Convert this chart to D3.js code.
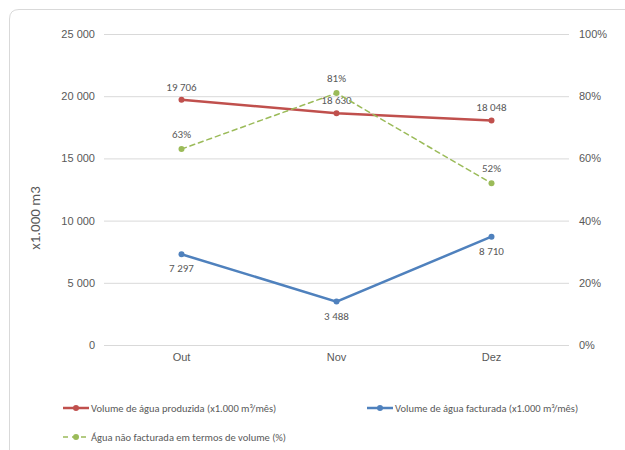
<!DOCTYPE html>
<html>
<head>
<meta charset="utf-8">
<script src="https://cdn.jsdelivr.net/npm/d3@7"></script>
<style>
  body { margin: 0; background: #fff; }
  svg { display: block; font-family: Calibri, Carlito, Lato, "Open Sans", sans-serif; }
</style>
</head>
<body>
<svg id="chart" width="625" height="450"></svg>
<script>
const months = ["Out", "Nov", "Dez"];
const produced = [19706, 18630, 18048];
const billed = [7297, 3488, 8710];
const unbilledPct = [63, 81, 52];
const leftTicks = [0, 5000, 10000, 15000, 20000, 25000];
const rightTicks = [0, 20, 40, 60, 80, 100];

const svg = d3.select("#chart");
const textColor = "#595959";
const fmt = v => d3.format(",")(v).replace(/,/g, " ");

// chart frame
svg.append("path")
  .attr("d", "M9.5,460 L9.5,19 Q9.5,9.5 19,9.5 L640,9.5")
  .attr("fill", "none").attr("stroke", "#d9d9d9").attr("stroke-width", 1);

const plotLeft = 104, plotRight = 569, plotTop = 34, plotBottom = 345;

const x = d3.scaleBand().domain(months).range([plotLeft, plotRight]);
const yL = d3.scaleLinear().domain([0, 25000]).range([plotBottom, plotTop]);
const yR = d3.scaleLinear().domain([0, 100]).range([plotBottom, plotTop]);
const cx = m => x(m) + x.bandwidth() / 2;

// gridlines
svg.append("g").selectAll("line").data(leftTicks).join("line")
  .attr("x1", plotLeft).attr("x2", plotRight)
  .attr("y1", d => yL(d) + 0.5).attr("y2", d => yL(d) + 0.5)
  .attr("stroke", "#d9d9d9").attr("stroke-width", 1);

// left axis labels
const gL = svg.append("g").attr("transform", `translate(${plotLeft - 9},0)`)
  .call(d3.axisLeft(yL).tickValues(leftTicks).tickFormat(fmt).tickSize(0).tickPadding(0));
gL.select(".domain").remove();
gL.selectAll("text").attr("fill", textColor).style("font-size", "11px");

// right axis labels
const gR = svg.append("g").attr("transform", `translate(${plotRight + 10},0)`)
  .call(d3.axisRight(yR).tickValues(rightTicks).tickFormat(d => d + "%").tickSize(0).tickPadding(0));
gR.select(".domain").remove();
gR.selectAll("text").attr("fill", textColor).style("font-size", "11px");

// category axis labels
const gX = svg.append("g").attr("transform", `translate(0,${plotBottom + 8})`)
  .call(d3.axisBottom(x).tickSize(0).tickPadding(0));
gX.select(".domain").remove();
gX.selectAll("text").attr("fill", textColor).style("font-size", "11px");

// y axis title
svg.append("text")
  .attr("transform", "translate(40,218) rotate(-90)")
  .attr("text-anchor", "middle").attr("fill", textColor)
  .style("font-size", "15px").text("x1.000 m3");

function drawSeries(values, yScale, color, width, dash, labelFn, labelDy) {
  const pts = months.map((m, i) => [cx(m), yScale(values[i])]);
  svg.append("path")
    .attr("d", d3.line()(pts))
    .attr("fill", "none").attr("stroke", color).attr("stroke-width", width)
    .attr("stroke-linecap", "round")
    .attr("stroke-dasharray", dash);
  svg.append("g").selectAll("circle").data(pts).join("circle")
    .attr("cx", d => d[0]).attr("cy", d => d[1]).attr("r", 3)
    .attr("fill", color);
  svg.append("g").selectAll("text").data(values).join("text")
    .attr("x", (d, i) => pts[i][0]).attr("y", (d, i) => pts[i][1] + labelDy)
    .attr("text-anchor", "middle").attr("fill", textColor)
    .style("font-size", "11px").text(labelFn);
}

drawSeries(produced, yL, "#C0504D", 2.5, null, fmt, -9);
drawSeries(billed, yL, "#4F81BD", 2.5, null, fmt, 18);
drawSeries(unbilledPct, yR, "#9BBB59", 1.5, "5,4", d => d + "%", -11);

// legend
const legend = [
  { label: "Volume de água produzida (x1.000 m³/mês)", color: "#C0504D", w: 2.5, dash: null, x: 63, y: 408 },
  { label: "Volume de água facturada (x1.000 m³/mês)", color: "#4F81BD", w: 2.5, dash: null, x: 367, y: 408 },
  { label: "Água não facturada em termos de volume (%)", color: "#9BBB59", w: 1.5, dash: "5,4", x: 63, y: 437 }
];
const lg = svg.append("g").selectAll("g").data(legend).join("g")
  .attr("transform", d => `translate(${d.x},${d.y})`);
lg.append("line").attr("x1", 0).attr("x2", 26).attr("y1", 0).attr("y2", 0)
  .attr("stroke", d => d.color).attr("stroke-width", d => d.w)
  .attr("stroke-dasharray", d => d.dash);
lg.append("circle").attr("cx", 13).attr("cy", 0).attr("r", 3).attr("fill", d => d.color);
lg.append("text").attr("x", 28).attr("y", 0).attr("dy", "0.35em")
  .attr("fill", textColor).style("font-size", "10.5px").text(d => d.label);
</script>
</body>
</html>
